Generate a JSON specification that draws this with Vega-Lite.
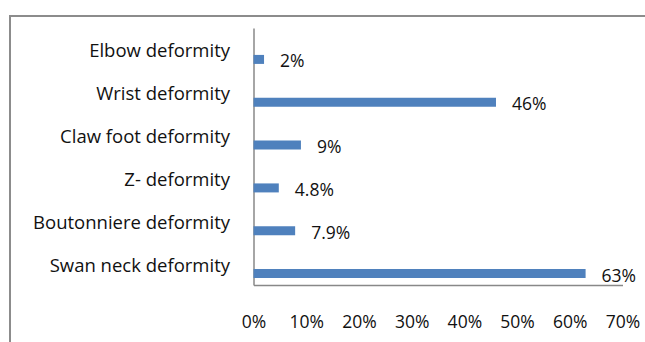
{
  "$schema": "https://vega.github.io/schema/vega-lite/v6.json",
  "autosize": {"type": "none"},
  "padding": {"left": 10, "top": 16, "right": 0, "bottom": 0},
  "width": 640,
  "height": 335,
  "background": "white",
  "config": {
    "view": {"stroke": "#8c8c8c", "strokeWidth": 2},
    "font": "Open Sans"
  },
  "data": {
    "values": [
      {"category": "Elbow deformity", "value": 0.02},
      {"category": "Wrist deformity", "value": 0.46},
      {"category": "Claw foot deformity", "value": 0.09},
      {"category": "Z- deformity", "value": 0.048},
      {"category": "Boutonniere deformity", "value": 0.079},
      {"category": "Swan neck deformity", "value": 0.63}
    ]
  },
  "encoding": {
    "y": {
      "field": "category",
      "type": "nominal",
      "sort": null,
      "scale": {"range": [12, 269], "paddingInner": 0, "paddingOuter": 0},
      "axis": {
        "orient": "left",
        "offset": -243.5,
        "title": null,
        "domain": true,
        "domainColor": "#888888",
        "domainWidth": 1.5,
        "ticks": false,
        "grid": false,
        "labelPadding": 24,
        "labelOffset": 2,
        "labelFont": "Open Sans",
        "labelFontSize": 18.5,
        "labelColor": "#111111",
        "labelLimit": 400
      }
    },
    "x": {
      "field": "value",
      "type": "quantitative",
      "scale": {"domain": [0, 0.7], "range": [243.5, 612.5], "nice": false, "zero": true},
      "axis": {
        "orient": "bottom",
        "offset": -66,
        "title": null,
        "values": [0, 0.1, 0.2, 0.3, 0.4, 0.5, 0.6, 0.7],
        "format": ".0%",
        "domain": true,
        "domainColor": "#888888",
        "domainWidth": 1.5,
        "ticks": false,
        "grid": false,
        "labelFlush": false,
        "labelPadding": 28,
        "labelFont": "Open Sans",
        "labelFontSize": 17.5,
        "labelColor": "#111111"
      }
    }
  },
  "layer": [
    {
      "mark": {"type": "bar", "color": "#4f81bd", "height": 9, "yOffset": 10}
    },
    {
      "mark": {
        "type": "text",
        "align": "left",
        "baseline": "middle",
        "dx": 16,
        "yOffset": 13,
        "font": "Open Sans",
        "fontSize": 17.5,
        "color": "#111111"
      },
      "encoding": {
        "text": {"field": "value", "type": "quantitative", "format": ".1~%"}
      }
    }
  ]
}
